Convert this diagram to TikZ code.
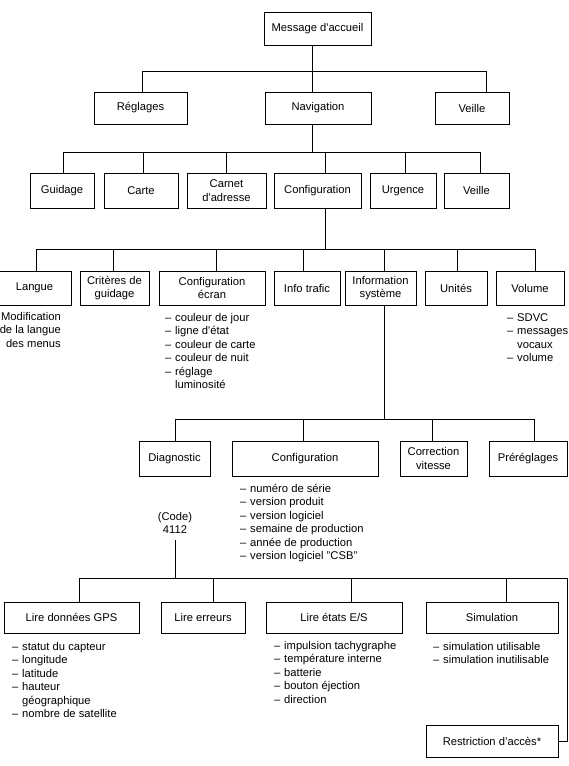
\documentclass[tikz,border=0pt]{standalone}
\usepackage{fontspec}
\setmainfont{Liberation Sans}
\newcommand{\tiret}{\makebox[10pt][l]{–}}
\newcommand{\suite}{\hspace*{10pt}}
\newcommand{\apo}{\textquotesingle}

\begin{document}
\begin{tikzpicture}[x=1pt, y=-1pt, font=\fontsize{11.2}{13.5}\selectfont,
    boite/.style={draw, line width=0.8pt, inner sep=0pt, align=center},
    liste/.style={anchor=north west, inner sep=0pt, align=left},
    trait/.style={line width=0.8pt}]
    \useasboundingbox (0,0) rectangle (568,766);

    % Define positions of the boxes
    \node[boite, minimum width=107, minimum height=33] (accueil) at (317.5,28.5) {Message d\apo accueil};

    \node[boite, minimum width=93, minimum height=32] (reglages) at (140.5,108) {Réglages};
    \node[boite, minimum width=106, minimum height=32] (navigation) at (318,108) {Navigation};
    \node[boite, minimum width=74, minimum height=32] (veille) at (472,108) {Veille};

    \node[boite, minimum width=64, minimum height=35] (guidage) at (62,190.5) {Guidage};
    \node[boite, minimum width=74, minimum height=35] (carte) at (141,190.5) {Carte};
    \node[boite, minimum width=79, minimum height=35] (carnet) at (226.5,190.5) {Carnet\\d\apo adresse};
    \node[boite, minimum width=87, minimum height=35] (configuration) at (317.5,190.5) {Configuration};
    \node[boite, minimum width=66, minimum height=35] (urgence) at (403,190.5) {Urgence};
    \node[boite, minimum width=65, minimum height=35] (veilleb) at (476.5,190.5) {Veille};

    \node[boite, minimum width=73, minimum height=34] (langue) at (34.5,288) {Langue};
    \node[boite, minimum width=69, minimum height=34] (criteres) at (114.5,288) {Critères de\\guidage};
    \node[boite, minimum width=106, minimum height=34] (ecran) at (212,288) {Configuration\\écran};
    \node[boite, minimum width=66, minimum height=34] (trafic) at (307,288) {Info trafic};
    \node[boite, minimum width=71, minimum height=34] (infosys) at (380.5,288) {Information\\système};
    \node[boite, minimum width=62, minimum height=34] (unites) at (456,288) {Unités};
    \node[boite, minimum width=68, minimum height=34] (volume) at (530,288) {Volume};

    \node[boite, minimum width=71, minimum height=35] (diagnostic) at (174.5,458.5) {Diagnostic};
    \node[boite, minimum width=146, minimum height=35] (configb) at (305,458.5) {Configuration};
    \node[boite, minimum width=67, minimum height=35] (correction) at (433.5,458.5) {Correction\\vitesse};
    \node[boite, minimum width=78, minimum height=35] (prereglages) at (528,458.5) {Préréglages};

    \node[inner sep=0pt, inner ysep=6pt, align=center] (code) at (175,523) {(Code)\\4112};

    \node[boite, minimum width=135, minimum height=31] (gps) at (71.5,617.5) {Lire données GPS};
    \node[boite, minimum width=84, minimum height=31] (erreurs) at (203,617.5) {Lire erreurs};
    \node[boite, minimum width=136, minimum height=31] (etats) at (334,617.5) {Lire états E/S};
    \node[boite, minimum width=132, minimum height=31] (simulation) at (492,617.5) {Simulation};
    \node[boite, minimum width=132, minimum height=32] (restriction) at (492,741) {Restriction d’accès*};

    % Texts under the boxes
    \node[anchor=north east, inner sep=0pt, align=right] (languetxt) at (61,312) {Modification\\de la langue\\des menus};
    \node[liste] (ecrantxt) at (165,313) {\tiret couleur de jour\\\tiret ligne d\apo état\\\tiret couleur de carte\\\tiret couleur de nuit\\\tiret réglage\\\suite luminosité};
    \node[liste] (volumetxt) at (507,313) {\tiret SDVC\\\tiret messages\\\suite vocaux\\\tiret volume};
    \node[liste] (configtxt) at (240,484) {\tiret numéro de série\\\tiret version produit\\\tiret version logiciel\\\tiret semaine de production\\\tiret année de production\\\tiret version logiciel "CSB"};
    \node[liste] (gpstxt) at (12,642) {\tiret statut du capteur\\\tiret longitude\\\tiret latitude\\\tiret hauteur\\\suite géographique\\\tiret nombre de satellite};
    \node[liste] (etatstxt) at (274,641) {\tiret impulsion tachygraphe\\\tiret température interne\\\tiret batterie\\\tiret bouton éjection\\\tiret direction};
    \node[liste] (simutxt) at (433,642) {\tiret simulation utilisable\\\tiret simulation inutilisable};

    % Junctions of the branches
    \coordinate (j1) at (312,71);
    \coordinate (j2) at (312,152);
    \coordinate (j3) at (325,249);
    \coordinate (j4) at (384,419);
    \coordinate (j5) at (175,578);
    \coordinate (coin) at (567,578);

    % Draw edges between each parent and its children
    \draw[trait] ([xshift=-5.5]accueil.south) -- (j1);
    \draw[trait] ([xshift=1.5]reglages.north) |- (j1);
    \draw[trait] ([xshift=-6]navigation.north) -- (j1);
    \draw[trait] ([xshift=14]veille.north) |- (j1);

    \draw[trait] ([xshift=-6]navigation.south) -- (j2);
    \draw[trait] ([xshift=1]guidage.north) |- (j2);
    \draw[trait] ([xshift=2]carte.north) |- (j2);
    \draw[trait] (carnet.north) |- (j2);
    \draw[trait] ([xshift=7.5]configuration.north) |- (j2);
    \draw[trait] ([xshift=2]urgence.north) |- (j2);
    \draw[trait] ([xshift=3.5]veilleb.north) |- (j2);

    \draw[trait] ([xshift=7.5]configuration.south) -- (j3);
    \draw[trait] ([xshift=1.5]langue.north) |- (j3);
    \draw[trait] ([xshift=-1.5]criteres.north) |- (j3);
    \draw[trait] ([xshift=4]ecran.north) |- (j3);
    \draw[trait] ([xshift=-4]trafic.north) |- (j3);
    \draw[trait] ([xshift=3.5]infosys.north) |- (j3);
    \draw[trait] ([xshift=1]unites.north) |- (j3);
    \draw[trait] ([xshift=5]volume.north) |- (j3);

    \draw[trait] ([xshift=3.5]infosys.south) -- (j4);
    \draw[trait] ([xshift=0.5]diagnostic.north) |- (j4);
    \draw[trait] ([xshift=-2]configb.north) |- (j4);
    \draw[trait] ([xshift=-1.5]correction.north) |- (j4);
    \draw[trait] ([xshift=6]prereglages.north) |- (j4);

    \draw[trait] (code.south) -- (j5);
    \draw[trait] ([xshift=7.5]gps.north) |- (j5);
    \draw[trait] ([xshift=10]erreurs.north) |- (j5);
    \draw[trait] ([xshift=17]etats.north) |- (j5);
    \draw[trait] ([xshift=14]simulation.north) |- (j5);
    \draw[trait] (restriction.east) -| (coin) -- (j5);
\end{tikzpicture}
\end{document}
